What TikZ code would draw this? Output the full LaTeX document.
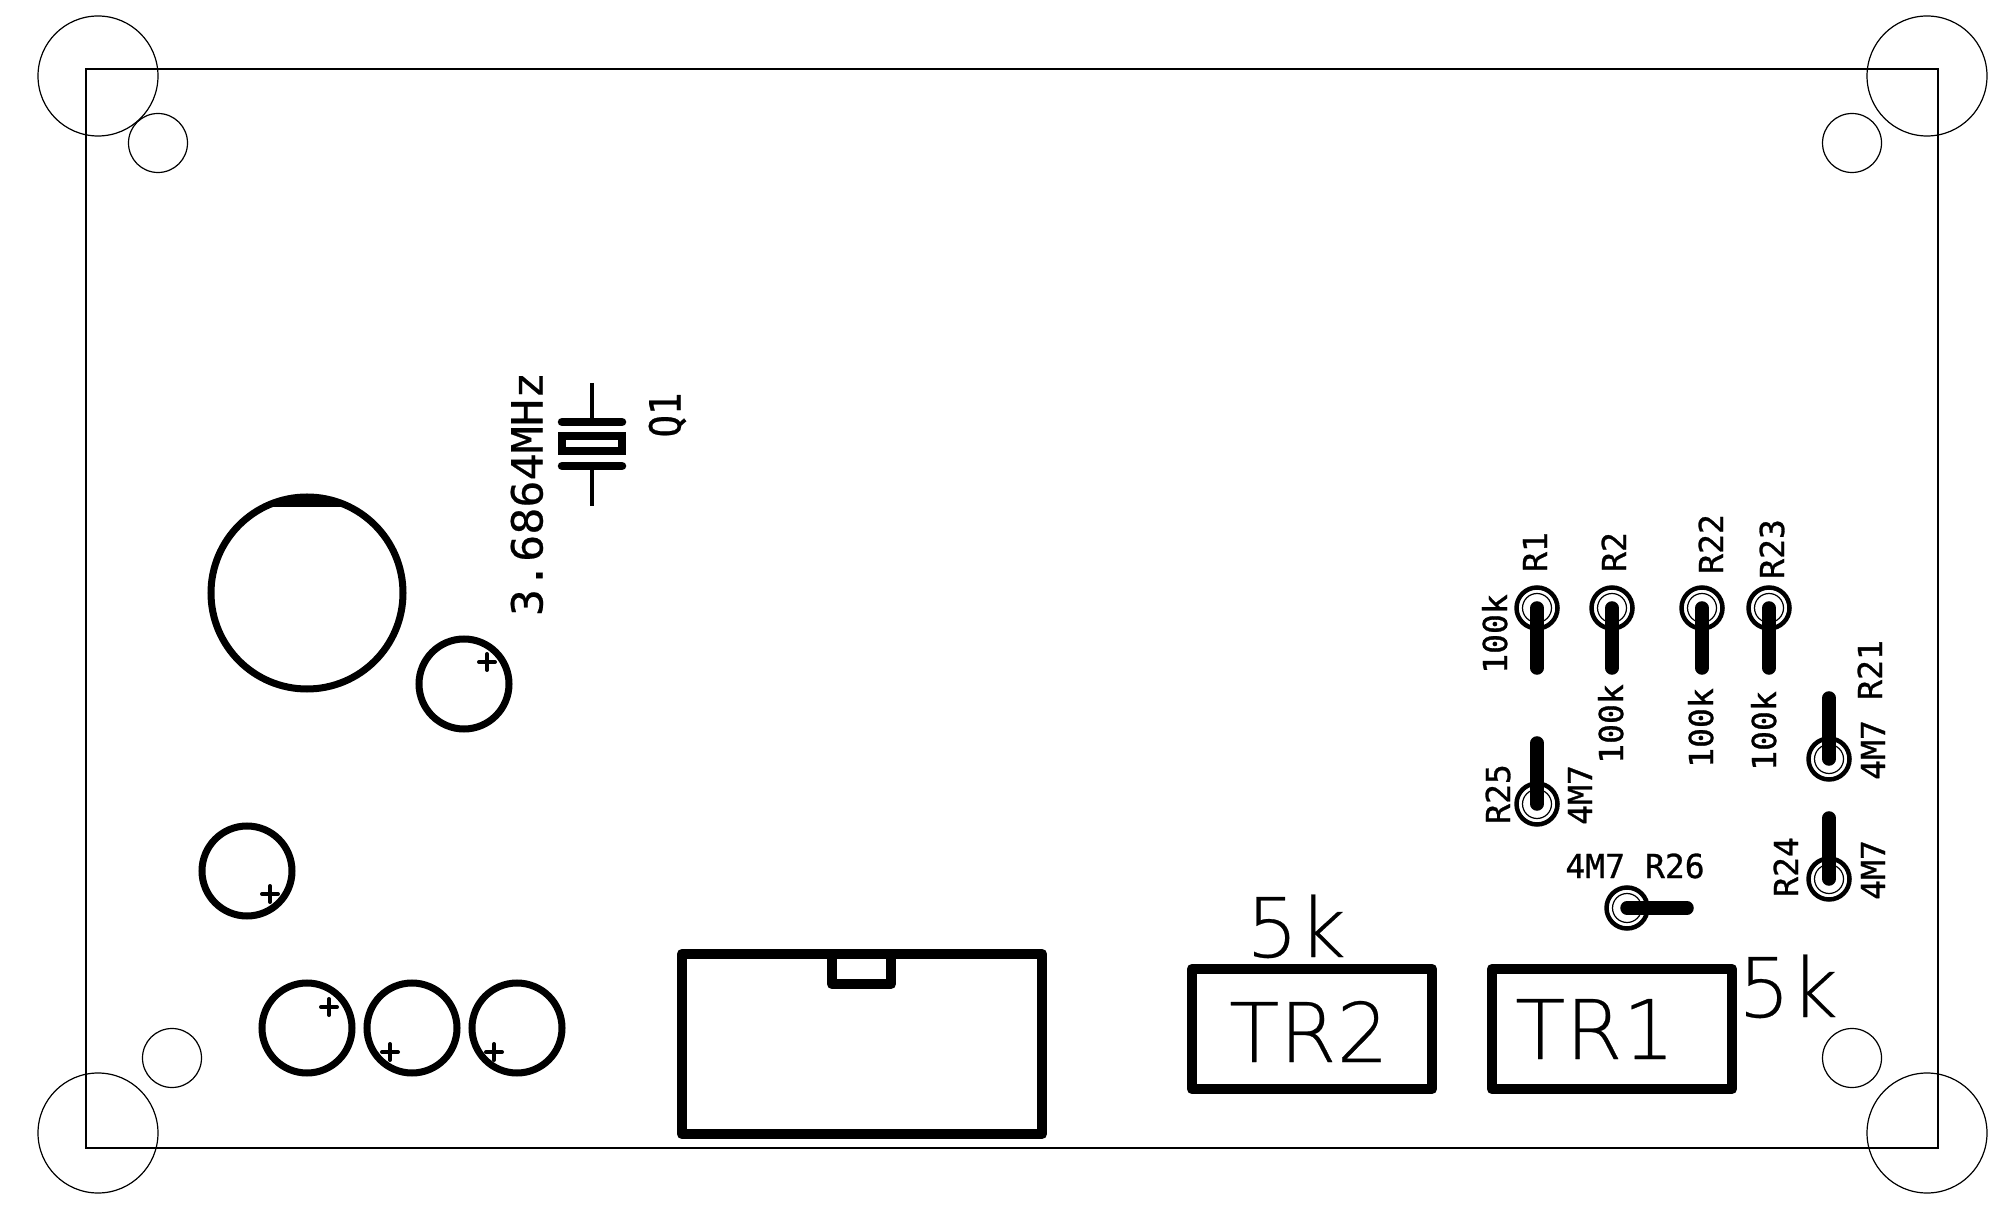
\documentclass[tikz,border=0pt]{standalone}
\usepackage{fontspec}
\newfontfamily\silkfont[FakeBold=0.9]{DejaVu Sans Mono}
\newfontfamily\silkmid[FakeStretch=1.05,FakeBold=0.5]{DejaVu Sans Mono}
\newfontfamily\silknarrow[FakeStretch=0.87,FakeBold=0.5]{DejaVu Sans Mono}
\newfontfamily\silkwide[FakeBold=0.3]{DejaVu Sans ExtraLight}
\tikzset{
    outline/.style = {line width=0.015cm},
    hole/.style    = {line width=0.012cm},
    ring/.style    = {line width=0.07cm},
    padring/.style = {line width=0.045cm},
    bar/.style     = {line width=0.135cm, line cap=round},
    frame/.style   = {line width=0.105cm, line join=round},
    plate/.style   = {line width=0.085cm, line cap=round},
    plus/.style    = {line width=0.04cm, line cap=round},
    tiny/.style    = {inner sep=0, text height=0.24cm, text depth=0cm, font=\silkfont\fontsize{9.4}{9.4}\selectfont},
    mid/.style     = {inner sep=0, text height=0.31cm, text depth=0cm, font=\silkmid\fontsize{12.2}{12.2}\selectfont},
    big/.style     = {inner sep=0, text height=0.6cm, text depth=0cm, font=\silkwide\fontsize{23.4}{23.4}\selectfont}
}
\begin{document}
\begin{tikzpicture}[x=0.01cm, y=-0.01cm]
    \useasboundingbox (0,0) rectangle (2009,1216);
    % board
    \draw[outline] (86,69) rectangle (1938,1148);
    % mounting holes
    \draw[hole] (98,76) circle[radius=60];
    \draw[hole] (98,1133) circle[radius=60];
    \draw[hole] (1927,76) circle[radius=60];
    \draw[hole] (1927,1133) circle[radius=60];
    \draw[hole] (158,143) circle[radius=29.5];
    \draw[hole] (172,1058) circle[radius=29.5];
    \draw[hole] (1852,143) circle[radius=29.5];
    \draw[hole] (1852,1058) circle[radius=29.5];
    % large capacitor
    \draw[ring] (307,593) circle[radius=96];
    \begin{scope}
        \clip (200,480) rectangle (420,507);
        \fill (307,593) circle[radius=93];
    \end{scope}
    % small capacitors
    \draw[ring] (464,684) circle[radius=45];
    \draw[plus] (479,662) -- (495,662) (487,654) -- (487,670);
    \draw[ring] (247,871) circle[radius=45];
    \draw[plus] (262,894) -- (278,894) (270,886) -- (270,902);
    \draw[ring] (307,1028) circle[radius=45];
    \draw[plus] (321,1007) -- (337,1007) (329,999) -- (329,1015);
    \draw[ring] (412,1028) circle[radius=45];
    \draw[plus] (382,1052) -- (398,1052) (390,1044) -- (390,1060);
    \draw[ring] (517,1028) circle[radius=45];
    \draw[plus] (486,1052) -- (502,1052) (494,1044) -- (494,1060);
    % crystal
    \draw[line width=0.04cm] (592,383) -- (592,422) (592,466) -- (592,506);
    \draw[plate] (562,422) -- (622,422);
    \draw[plate] (562,466) -- (622,466);
    \draw[plate, line cap=butt] (562,436) rectangle (622,451);
    \node[mid, rotate=90] (xtalval) at (527,494) {3.6864MHz};
    \node[mid, rotate=90, font=\silknarrow\fontsize{12.2}{12.2}\selectfont] (xtalname) at (665,415) {Q1};
    % connector
    \draw[frame] (682,954) rectangle (1042,1134);
    \draw[frame] (832,954) |- (891,984) -- (891,954);
    % trimmers
    \draw[frame] (1192,969) rectangle (1432,1089);
    \node[big] (trtwo) at (1309,1032) {TR2};
    \node[big] (trtwoval) at (1296,927) {5k};
    \draw[frame] (1492,969) rectangle (1732,1089);
    \node[big] (trone) at (1595,1029) {TR1};
    \node[big] (troneval) at (1788,987) {5k};
    % resistors
    \draw[padring] (1537,608) circle[radius=20.5];
    \draw[hole] (1537,608) circle[radius=14.5];
    \draw[bar] (1537,608) -- (1537,668);
    \draw[padring] (1612,608) circle[radius=20.5];
    \draw[hole] (1612,608) circle[radius=14.5];
    \draw[bar] (1612,608) -- (1612,668);
    \draw[padring] (1702,608) circle[radius=20.5];
    \draw[hole] (1702,608) circle[radius=14.5];
    \draw[bar] (1702,608) -- (1702,668);
    \draw[padring] (1769,608) circle[radius=20.5];
    \draw[hole] (1769,608) circle[radius=14.5];
    \draw[bar] (1769,608) -- (1769,668);
    \draw[padring] (1829,759) circle[radius=20.5];
    \draw[hole] (1829,759) circle[radius=14.5];
    \draw[bar] (1829,759) -- (1829,698);
    \draw[padring] (1537,804) circle[radius=20.5];
    \draw[hole] (1537,804) circle[radius=14.5];
    \draw[bar] (1537,804) -- (1537,743);
    \draw[padring] (1829,879) circle[radius=20.5];
    \draw[hole] (1829,879) circle[radius=14.5];
    \draw[bar] (1829,879) -- (1829,818);
    \draw[padring] (1627,908) circle[radius=20.5];
    \draw[hole] (1627,908) circle[radius=14.5];
    \draw[bar] (1627,908) -- (1687,908);
    % resistor labels
    \node[tiny, rotate=90] (rone) at (1535,552) {R1};
    \node[tiny, rotate=90] (rtwo) at (1614,552) {R2};
    \node[tiny, rotate=90] (rtt) at (1711,544) {R22};
    \node[tiny, rotate=90] (rth) at (1772,549) {R23};
    \node[tiny, rotate=90] (roneval) at (1495,634) {100k};
    \node[tiny, rotate=90] (rtwoval) at (1611,724) {100k};
    \node[tiny, rotate=90] (rttval) at (1701,728) {100k};
    \node[tiny, rotate=90] (rthval) at (1764,731) {100k};
    \node[tiny, rotate=90] (rto) at (1870,670) {R21};
    \node[tiny, rotate=90] (rtoval) at (1873,750) {4M7};
    \node[tiny, rotate=90] (rfv) at (1498,794) {R25};
    \node[tiny, rotate=90] (rfvval) at (1580,795) {4M7};
    \node[tiny, rotate=90] (rfr) at (1786,867) {R24};
    \node[tiny, rotate=90] (rfrval) at (1873,870) {4M7};
    \node[tiny] (rsx) at (1635,866) {4M7 R26};
\end{tikzpicture}
\end{document}
